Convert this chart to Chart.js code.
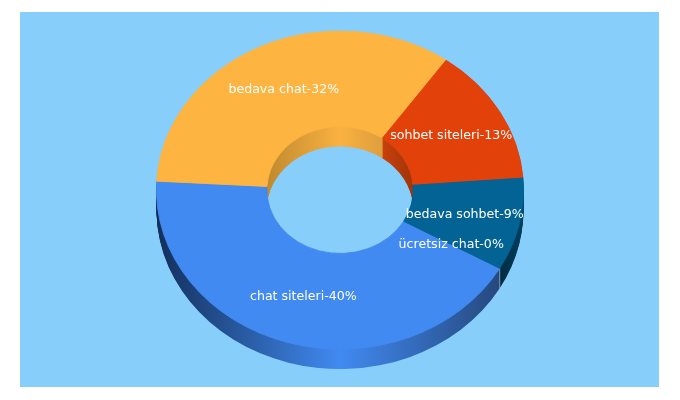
<!DOCTYPE html>
<html>
<head>
<meta charset="utf-8">
<script src="https://cdn.jsdelivr.net/npm/chart.js@4"></script>
<style>
  body { margin: 0; background: #fff; }
  canvas { display: block; }
</style>
</head>
<body>
<canvas id="grafica" width="680" height="400"></canvas>
<script>
// datos
const categorias = ['chat siteleri', 'bedava chat', 'sohbet siteleri', 'bedava sohbet', 'ücretsiz chat'];
const valores = [40.14, 31.9, 13.15, 8.83, 0];
const porcentajes = [40, 32, 13, 9, 0];
const colores = ['#418AF1', '#FDB441', '#E2420A', '#036394', '#036394'];

// aspecto 3D
const centroY = 190;
const aplastar = 159.5 / 184;
const profundidad = 20;

function transformar(ctx, chart, dy) {
  const cy = chart.chartArea.top + chart.chartArea.height / 2;
  ctx.translate(0, centroY + dy);
  ctx.scale(1, aplastar);
  ctx.translate(0, -cy);
}

function degradado(ctx, x0, x1, paradas) {
  const g = ctx.createLinearGradient(x0, 0, x1, 0);
  paradas.forEach(function (p) { g.addColorStop(p[0], p[1]); });
  return g;
}

const pared3d = {
  id: 'pared3d',
  beforeDraw(chart) {
    const ctx = chart.ctx;
    ctx.fillStyle = '#87CEFB';
    ctx.fillRect(20, 12, 639, 375);
  },
  beforeDatasetsDraw(chart) {
    const ctx = chart.ctx;
    const paredes = [
      degradado(ctx, 156, 524, [[0, '#132F5A'], [0.5, '#418AF1'], [0.93, '#26497F'], [1, '#26497F']]),
      degradado(ctx, 267, 413, [[0, '#C08A30'], [0.5, '#FAB140'], [1, '#C8913A']]),
      degradado(ctx, 383, 413, [[0, '#C8400C'], [1, '#A0350A']]),
      degradado(ctx, 499, 524, [[0, '#012B40'], [1, '#024060']]),
      '#012B40'
    ];
    const arcos = chart.getDatasetMeta(0).data;
    for (let d = profundidad; d >= 1; d--) {
      ctx.save();
      transformar(ctx, chart, d);
      arcos.forEach(function (arco, i) {
        const original = arco.options;
        arco.options = {
          backgroundColor: paredes[i], borderColor: paredes[i], borderWidth: 0,
          borderAlign: 'center', borderDash: [], borderDashOffset: 0,
          borderJoinStyle: 'round', borderRadius: 0, offset: 0, spacing: 0, circular: true
        };
        arco.draw(ctx);
        arco.options = original;
      });
      ctx.restore();
    }
    // arista clara donde termina la pared azul
    const a = arcos[0];
    const ax = a.x + a.outerRadius * Math.cos(a.startAngle);
    const ay = centroY + a.outerRadius * Math.sin(a.startAngle) * aplastar;
    ctx.strokeStyle = 'rgba(190,200,215,0.7)';
    ctx.lineWidth = 1;
    ctx.beginPath();
    ctx.moveTo(ax, ay);
    ctx.lineTo(ax, ay + profundidad);
    ctx.stroke();

    ctx.save();
    transformar(ctx, chart, 0);
  },
  afterDatasetsDraw(chart) {
    const ctx = chart.ctx;
    ctx.restore();
    const cy = chart.chartArea.top + chart.chartArea.height / 2;
    ctx.save();
    ctx.fillStyle = '#fff';
    ctx.font = '12.6px "DejaVu Sans"';
    ctx.textAlign = 'center';
    ctx.textBaseline = 'middle';
    chart.getDatasetMeta(0).data.forEach(function (arco, i) {
      const p = arco.getCenterPoint();
      ctx.fillText(categorias[i] + '-' + porcentajes[i] + '%', p.x - 0.5, centroY + (p.y - cy) * aplastar);
    });
    ctx.restore();
  }
};

new Chart(document.getElementById('grafica').getContext('2d'), {
  type: 'doughnut',
  data: {
    labels: categorias,
    datasets: [{ data: valores, backgroundColor: colores, borderColor: colores, borderWidth: 1 }]
  },
  options: {
    responsive: false,
    animation: false,
    rotation: 119.5,
    radius: 183.5,
    cutout: '39.9%',
    plugins: { legend: { display: false }, tooltip: { enabled: false } }
  },
  plugins: [pared3d]
});
</script>
</body>
</html>
